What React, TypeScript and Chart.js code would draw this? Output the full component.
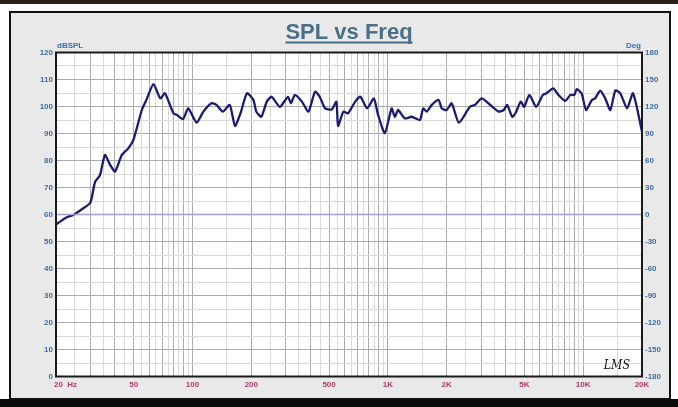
import React, { useEffect, useRef } from "react";
import { Chart, registerables } from "chart.js";

Chart.register(...registerables);

const FREQ_HZ = [
  20, 22.7, 24.5, 27.6, 30, 31.7, 33.6, 35.6, 37.8, 40.1, 43.4, 46.9, 49.8, 55, 58, 63.1, 68.4, 72.2,
  79.8, 83, 89.4, 95, 105, 113.6, 125, 132.6, 143, 155, 165, 176, 190, 205, 212, 225, 240, 254, 280,
  308, 319, 334, 363, 392, 424, 448, 477, 516, 545, 556, 592, 626, 680, 723, 783, 848, 891, 965, 1045,
  1086, 1128, 1221, 1326, 1458, 1516, 1578, 1678, 1819, 1888, 2000, 2120, 2310, 2630, 2790, 3020, 3270,
  3690, 3920, 4080, 4330, 4500, 4790, 4990, 5300, 5740, 6220, 6480, 7020, 7460, 8090, 8600, 9000, 9270,
  9810, 10340, 11070, 11500, 12230, 12960, 13770, 14600, 15490, 16770, 18000, 20000,
];
const SPL_DB = [
  56.3, 59.0, 59.8, 62.3, 64.4, 72.1, 74.6, 82.0, 78.5, 75.9, 82.0, 84.5, 87.6, 98.7, 102.4, 108.3, 103.0, 104.9,
  97.5, 96.9, 95.3, 99.3, 94.0, 98.1, 101.2, 100.6, 98.1, 100.6, 92.8, 97.5, 104.9, 102.4, 98.1, 96.2, 101.8, 103.6, 99.9,
  103.6, 101.2, 104.3, 101.8, 98.1, 105.5, 103.6, 99.3, 98.9, 101.8, 92.8, 98.1, 97.5, 101.8, 103.6, 99.3, 103.0, 96.9, 90.1, 99.3,
  96.2, 98.7, 95.6, 96.2, 95.0, 99.3, 98.1, 100.6, 102.4, 99.3, 98.7, 101.2, 94.0, 99.9, 100.6, 103.0, 101.2,
  98.1, 98.7, 100.6, 96.2, 97.5, 101.8, 99.9, 104.3, 99.9, 104.3, 104.9, 106.7, 104.3, 102.1, 104.3, 104.3, 106.4,
  104.9, 98.7, 102.4, 103.0, 105.9, 103.0, 98.7, 105.9, 104.9, 99.3, 104.9, 90.7,
];
const PHASE_FREQ = [20, 20000];
const PHASE_DEG = [0, 0];

const X_LABEL_VALUES = [20, 50, 100, 200, 500, 1000, 2000, 5000, 10000, 20000];
const X_LABELS = ["20", "50", "100", "200", "500", "1K", "2K", "5K", "10K", "20K"];
const DECADES = [10, 100, 1000, 10000];
const GRID_MULTS = [1, 1.5, 2, 2.5, 3, 3.5, 4, 4.5, 5, 5.5, 6, 6.5, 7, 7.5, 8, 8.5, 9, 9.5];

const TITLE = "SPL vs Freq";
const LEFT_UNIT = "dBSPL";
const RIGHT_UNIT = "Deg";
const SIGNATURE = "LMS";

const gridValues: number[] = [];
DECADES.forEach((d) => GRID_MULTS.forEach((m) => {
  const v = Math.round(d * m);
  if (v >= 20 && v <= 20000) gridValues.push(v);
}));

const isMajorFreq = (v: number) => {
  const d = Math.pow(10, Math.floor(Math.log10(v) + 1e-9));
  return Math.abs(v / d - Math.round(v / d)) < 1e-6;
};

const deco = {
  id: "deco",
  beforeDraw(chart: any) {
    const { ctx, chartArea: a } = chart;
    ctx.save();
    ctx.fillStyle = "#ffffff";
    ctx.fillRect(a.left, a.top, a.right - a.left, a.bottom - a.top);
    ctx.restore();
  },
  afterDraw(chart: any) {
    const { ctx, chartArea: a } = chart;
    const xs = chart.scales.x;
    ctx.save();
    ctx.strokeStyle = "#1a1a1a";
    ctx.lineWidth = 2;
    ctx.strokeRect(a.left, a.top, a.right - a.left, a.bottom - a.top);

    // title
    const cx = (a.left + a.right) / 2;
    ctx.font = "bold 22px 'Liberation Sans', Arial, sans-serif";
    ctx.fillStyle = "#4a6f88";
    ctx.textAlign = "center";
    ctx.textBaseline = "alphabetic";
    ctx.fillText(TITLE, cx, 39);
    const w = ctx.measureText(TITLE).width;
    ctx.fillRect(cx - w / 2, 41.5, w, 2);

    // units
    ctx.font = "bold 8px 'Liberation Sans', Arial, sans-serif";
    ctx.fillStyle = "#3f6fa5";
    ctx.textBaseline = "middle";
    ctx.textAlign = "left";
    ctx.fillText(LEFT_UNIT, a.left + 1, 46);
    ctx.textAlign = "right";
    ctx.fillText(RIGHT_UNIT, a.right - 1, 45.5);

    // x labels
    ctx.fillStyle = "#b23a6a";
    ctx.textAlign = "center";
    X_LABEL_VALUES.forEach((v, i) => {
      const px = xs.getPixelForValue(v);
      if (i === 0) {
        ctx.textAlign = "left";
        ctx.fillText(X_LABELS[i] + "  Hz", px - 2, a.bottom + 8);
        ctx.textAlign = "center";
      } else {
        ctx.fillText(X_LABELS[i], px, a.bottom + 8);
      }
    });

    // signature
    ctx.fillStyle = "#111111";
    ctx.font = "italic 13px 'DejaVu Serif', serif";
    ctx.textAlign = "right";
    ctx.textBaseline = "alphabetic";
    ctx.translate(a.right - 12, a.bottom - 8);
    ctx.scale(0.85, 1.05);
    ctx.fillText(SIGNATURE, 0, 0);
    ctx.restore();
  },
};

export default function App() {
  const ref = useRef<HTMLCanvasElement | null>(null);
  useEffect(() => {
    if (!ref.current) return;
    const chart = new Chart(ref.current, {
      type: "line",
      data: {
        datasets: [
          {
            label: "Phase",
            data: PHASE_FREQ.map((f, i) => ({ x: f, y: PHASE_DEG[i] })),
            yAxisID: "y1",
            borderColor: "#a19fd8",
            borderWidth: 1.5,
            pointRadius: 0,
            tension: 0,
          },
          {
            label: "SPL",
            data: FREQ_HZ.map((f, i) => ({ x: f, y: SPL_DB[i] })),
            yAxisID: "y",
            borderColor: "#1b1b72",
            borderWidth: 2.3,
            pointRadius: 0,
            tension: 0.2,
          },
        ],
      },
      options: {
        responsive: false,
        animation: false,
        devicePixelRatio: 1,
        layout: { padding: { top: 52.5, left: 0, right: 0, bottom: 0 } },
        plugins: { legend: { display: false }, tooltip: { enabled: false }, title: { display: false } },
        scales: {
          x: {
            type: "logarithmic",
            min: 20,
            max: 20000,
            afterBuildTicks: (s: any) => {
              s.ticks = gridValues.map((v) => ({ value: v }));
            },
            afterFit: (s: any) => {
              s.height = 30.5;
            },
            ticks: { display: false },
            border: { display: false },
            grid: {
              drawTicks: false,
              color: (c: any) => (isMajorFreq(c.tick.value) ? "#acacac" : "#dadada"),
              lineWidth: 1,
            },
          },
          y: {
            position: "left",
            min: 0,
            max: 120,
            afterFit: (s: any) => {
              s.width = 56;
            },
            ticks: {
              stepSize: 5,
              autoSkip: false,
              padding: 3,
              color: "#3f6fa5",
              font: { family: "'Liberation Sans', Arial, sans-serif", size: 8, weight: "bold" },
              callback: (v: any) => (Number(v) % 10 === 0 ? String(v) : ""),
            },
            border: { display: false },
            grid: {
              drawTicks: false,
              color: (c: any) => (c.tick.value % 10 === 0 ? "#acacac" : "#dadada"),
            },
          },
          y1: {
            position: "right",
            min: -180,
            max: 180,
            afterFit: (s: any) => {
              s.width = 36;
            },
            ticks: {
              stepSize: 30,
              autoSkip: false,
              padding: 3,
              color: "#3f6fa5",
              font: { family: "'Liberation Sans', Arial, sans-serif", size: 8, weight: "bold" },
            },
            border: { display: false },
            grid: { drawOnChartArea: false, drawTicks: false },
          },
        },
      },
      plugins: [deco],
    } as any);
    return () => chart.destroy();
  }, []);

  return (
    <div style={{ position: "fixed", left: 0, top: 0, width: 678, height: 407, background: "#ffffff", overflow: "hidden" }}>
      <div style={{ position: "absolute", left: 0, top: 0, width: 678, height: 4, background: "#2a211b" }} />
      <div
        style={{
          position: "absolute",
          left: 9,
          top: 11,
          width: 658,
          height: 385,
          border: "2px solid #111",
          background: "#e9e9e9",
        }}
      />
      <div style={{ position: "absolute", left: 0, top: 399, width: 678, height: 8, background: "#0c0c0c" }} />
      <canvas ref={ref} width={678} height={407} style={{ position: "absolute", left: 0, top: 0 }} />
    </div>
  );
}
